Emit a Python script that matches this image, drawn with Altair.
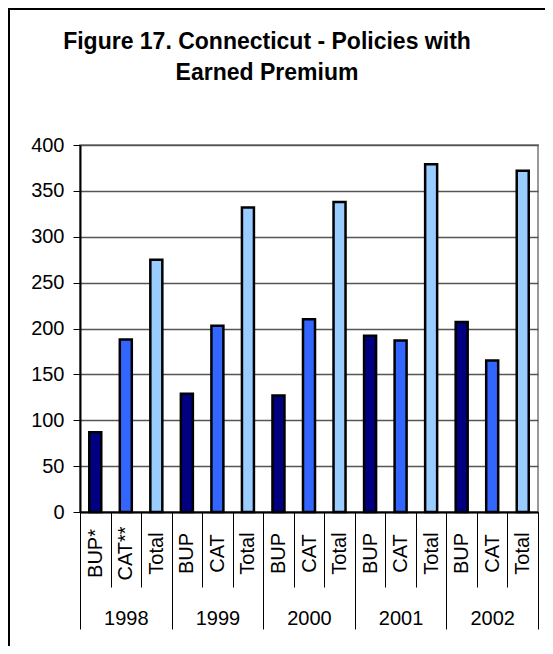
import altair as alt
import pandas as pd

years = ["1998", "1999", "2000", "2001", "2002"]
series = ["BUP", "CAT", "Total"]
bup = [87, 129, 127, 192, 207]
cat = [188, 203, 210, 187, 165]
total = [275, 332, 338, 379, 372]
first_year_labels = {"BUP": "BUP*", "CAT": "CAT**", "Total": "Total"}
colors = ["#000080", "#3366FF", "#99CCFF"]
y_ticks = [0, 50, 100, 150, 200, 250, 300, 350, 400]
title_lines = ["Figure 17. Connecticut - Policies with", "Earned Premium"]

rows = []
for i, yr in enumerate(years):
    for s, vals in zip(series, [bup, cat, total]):
        lab = first_year_labels[s] if i == 0 else s
        rows.append({"year": yr, "series": s, "key": f"{yr}|{lab}", "value": vals[i]})
df = pd.DataFrame(rows)
order = list(df["key"])

FONT = "Liberation Sans"
W, H = 458, 367

bars = alt.Chart(df).mark_bar(width=12, stroke="black", strokeWidth=2.5, strokeOpacity=1).encode(
    x=alt.X(
        "key:N", sort=order, title=None,
        scale=alt.Scale(paddingInner=0, paddingOuter=0),
        axis=alt.Axis(
            orient="bottom",
            labelExpr="split(datum.label, '|')[1]",
            labelAngle=270, labelAlign="center", labelBaseline="middle",
            labelPadding=-34, tickSize=75, tickBand="extent",
            tickColor="black", tickWidth=1, domainColor="black", domainWidth=2,
            labelFontSize=20, labelColor="black", labelFont=FONT, grid=False,
        ),
    ),
    y=alt.Y(
        "value:Q", title=None,
        scale=alt.Scale(domain=[0, 400], nice=False),
        axis=alt.Axis(
            values=y_ticks, labelFontSize=20, labelFont=FONT, labelColor="black",
            tickSize=7, tickColor="black", domainColor="black", domainWidth=2,
            labelPadding=9, grid=True, gridColor="#555555", gridWidth=1.5,
        ),
    ),
    fill=alt.Fill("series:N", scale=alt.Scale(domain=series, range=colors), legend=None),
)

year_df = pd.DataFrame({"year": years})
year_layer = alt.Chart(year_df).mark_point(opacity=0).encode(
    x=alt.X(
        "year:N", sort=years, title=None,
        scale=alt.Scale(paddingInner=0, paddingOuter=0),
        axis=alt.Axis(
            orient="bottom", offset=0,
            labelAngle=0, tickSize=117, tickBand="extent", tickColor="black",
            tickWidth=1, domain=False, labelPadding=-21, labelFontSize=20,
            labelFont=FONT, labelColor="black", grid=False,
        ),
    ),
    y=alt.value(0),
)

one = pd.DataFrame({"a": [0]})
border_left = alt.Chart(one).mark_rule(color="black", strokeWidth=2).encode(
    x=alt.value(-71), y=alt.value(-136), y2=alt.value(501)
)
border_top = alt.Chart(one).mark_rule(color="black", strokeWidth=2).encode(
    x=alt.value(-72), x2=alt.value(465), y=alt.value(-136)
)

chart = alt.layer(border_left, border_top, bars, year_layer).resolve_scale(
    x="independent"
).properties(
    width=W, height=H,
    autosize=alt.AutoSizeParams(type="none"),
    padding={"left": 72, "top": 137, "right": 7, "bottom": 134},
    title=alt.TitleParams(
        text=title_lines, fontSize=23, font=FONT, fontWeight="bold",
        anchor="middle", dx=-42, offset=-77, lineHeight=31, color="black",
    ),
).configure_view(stroke="#999999", strokeWidth=2)

chart.save("out.html", embed_options={"renderer": "svg", "actions": False})
